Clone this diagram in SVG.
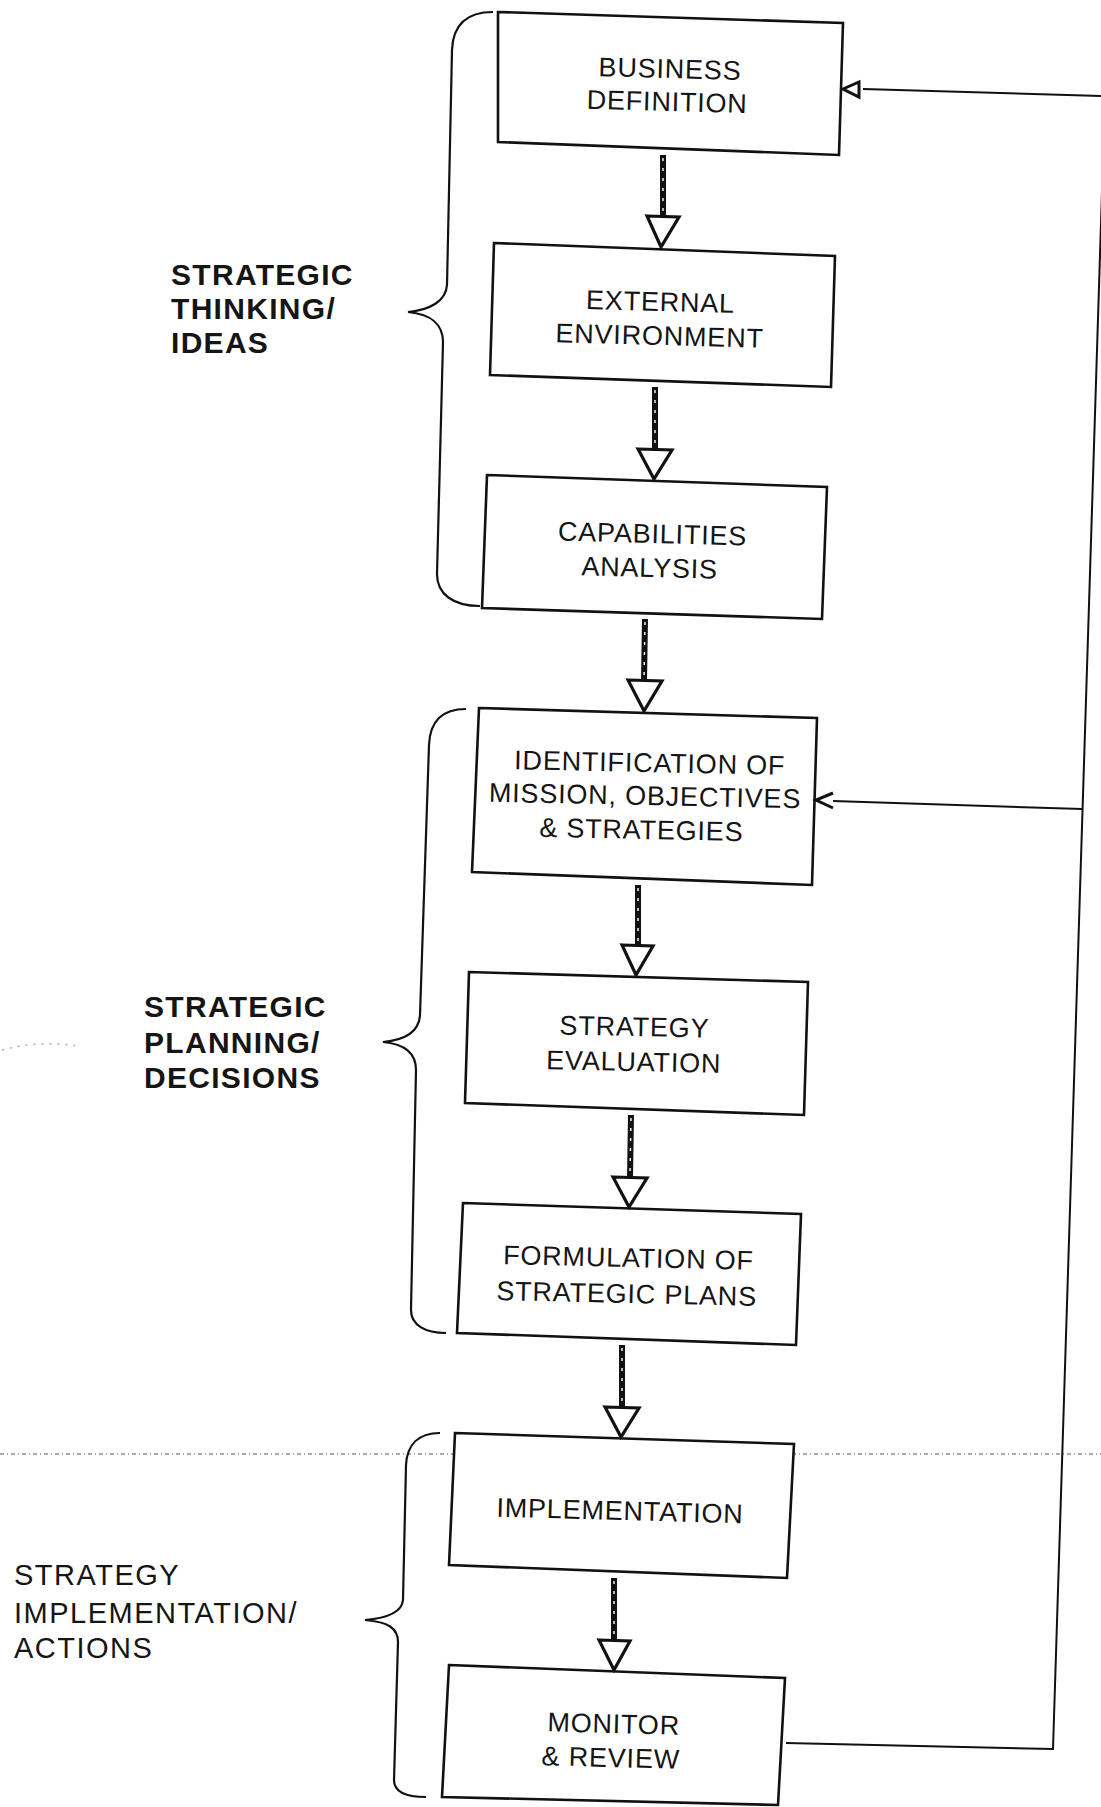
<svg xmlns="http://www.w3.org/2000/svg" width="1101" height="1807" viewBox="0 0 1101 1807">
<style>
.box{fill:#fff;stroke:#111;stroke-width:2.6;stroke-linejoin:miter}
.t{font-family:"Liberation Sans",Arial,sans-serif;font-size:27px;letter-spacing:0.8px;fill:#151515;text-anchor:middle}
.lb{font-family:"Liberation Sans",Arial,sans-serif;font-size:30px;font-weight:bold;letter-spacing:1.3px;fill:#151515}
.lr{font-family:"Liberation Sans",Arial,sans-serif;font-size:29px;letter-spacing:1.5px;fill:#151515}
.br{fill:none;stroke:#111;stroke-width:2.2}
.shaft{stroke:#111;stroke-width:6;fill:none}
.tex{stroke:#fff;stroke-width:1.4;stroke-dasharray:3 7;fill:none}
.head{fill:#fff;stroke:#111;stroke-width:3.2;stroke-linejoin:miter}
.fb{fill:none;stroke:#111;stroke-width:2}
</style>
<rect width="1101" height="1807" fill="#fff"/>

<!-- scan artefacts -->
<g id="artefacts">
<line x1="0" y1="1454" x2="1101" y2="1454" stroke="#8f8f8f" stroke-width="1.3" stroke-dasharray="4 3 1 3"/>
<path d="M2 1050 Q 40 1040 78 1046" fill="none" stroke="#aaa" stroke-width="1.5" stroke-dasharray="2 6"/>
<line x1="480" y1="1094" x2="487" y2="1094" stroke="#333" stroke-width="1.5"/>
</g>

<!-- brackets and group labels -->
<g id="group-thinking">
<path class="br" d="M493 12 C467 12 453 24 452 50 L447 285 C446 301 430 310 408 312 C430 314 443 324 443 342 L437 574 C437 594 453 606 480 606"/>
<text class="lb" x="171" y="285">STRATEGIC</text>
<text class="lb" x="171" y="319">THINKING/</text>
<text class="lb" x="171" y="353">IDEAS</text>
</g>
<g id="group-planning">
<path class="br" d="M466 709 C443 709 430 720 429 745 L420 1015 C419 1032 405 1040 383 1042 C405 1044 416 1053 416 1070 L411 1310 C411 1325 425 1333 446 1333"/>
<text class="lb" x="144" y="1017">STRATEGIC</text>
<text class="lb" x="144" y="1053">PLANNING/</text>
<text class="lb" x="144" y="1088">DECISIONS</text>
</g>
<g id="group-implementation">
<path class="br" d="M440 1433 C418 1433 407 1445 406 1465 L403 1600 C402 1612 388 1618 365 1620 C388 1622 398 1628 398 1642 L394 1780 C394 1792 405 1797 426 1797"/>
<text class="lr" x="14" y="1585">STRATEGY</text>
<text class="lr" x="14" y="1623">IMPLEMENTATION/</text>
<text class="lr" x="14" y="1658">ACTIONS</text>
</g>

<!-- nodes -->
<g id="business-definition">
<polygon class="box" points="498,12 843,23 839,155 498,142"/>
<text class="t" transform="rotate(1.5 670 70)"><tspan x="670" y="78">BUSINESS</tspan><tspan x="668" y="111">DEFINITION</tspan></text>
</g>
<g id="external-environment">
<polygon class="box" points="494,243 835,256 831,387 490,375"/>
<text class="t" transform="rotate(1.5 660 320)"><tspan x="660" y="311">EXTERNAL</tspan><tspan x="660" y="345">ENVIRONMENT</tspan></text>
</g>
<g id="capabilities-analysis">
<polygon class="box" points="487,475 827,487 822,619 482,608"/>
<text class="t" transform="rotate(1.5 652 555)"><tspan x="652" y="543">CAPABILITIES</tspan><tspan x="650" y="577">ANALYSIS</tspan></text>
</g>
<g id="identification">
<polygon class="box" points="479,708 817,718 812,885 472,872"/>
<text class="t" transform="rotate(1.2 645 800)"><tspan x="649" y="772">IDENTIFICATION OF</tspan><tspan x="645" y="805">MISSION, OBJECTIVES</tspan><tspan x="642" y="839">&amp; STRATEGIES</tspan></text>
</g>
<g id="strategy-evaluation">
<polygon class="box" points="469,972 808,982 804,1115 465,1103"/>
<text class="t" transform="rotate(1.2 634 1050)"><tspan x="634" y="1036">STRATEGY</tspan><tspan x="634" y="1071">EVALUATION</tspan></text>
</g>
<g id="formulation">
<polygon class="box" points="463,1203 801,1214 796,1345 457,1333"/>
<text class="t" transform="rotate(1.3 628 1280)"><tspan x="628" y="1267">FORMULATION OF</tspan><tspan x="627" y="1303">STRATEGIC PLANS</tspan></text>
</g>
<g id="implementation">
<polygon class="box" points="455,1433 794,1444 787,1578 449,1565"/>
<text class="t" transform="rotate(1.5 620 1512)"><tspan x="620" y="1520">IMPLEMENTATION</tspan></text>
</g>
<g id="monitor-review">
<polygon class="box" points="449,1665 785,1678 778,1805 442,1797"/>
<text class="t" transform="rotate(1.5 612 1750)"><tspan x="613" y="1733">MONITOR</tspan><tspan x="611" y="1767">&amp; REVIEW</tspan></text>
</g>

<!-- connectors -->
<g id="connectors">
<line class="shaft" x1="663" y1="155" x2="663" y2="217"/><line class="tex" x1="663" y1="158" x2="663" y2="214"/>
<polygon class="head" points="647,216 679,217 661,247"/>

<line class="shaft" x1="655" y1="387" x2="655" y2="450"/><line class="tex" x1="655" y1="390" x2="655" y2="447"/>
<polygon class="head" points="638,449 672,450 654,479"/>

<line class="shaft" x1="645" y1="619" x2="644" y2="681"/><line class="tex" x1="645" y1="622" x2="644" y2="678"/>
<polygon class="head" points="628,680 662,681 644,711"/>

<line class="shaft" x1="638" y1="885" x2="638" y2="946"/><line class="tex" x1="638" y1="888" x2="638" y2="943"/>
<polygon class="head" points="622,945 653,946 636,975"/>

<line class="shaft" x1="631" y1="1115" x2="630" y2="1178"/><line class="tex" x1="631" y1="1118" x2="630" y2="1175"/>
<polygon class="head" points="613,1177 647,1178 629,1207"/>

<line class="shaft" x1="622" y1="1345" x2="622" y2="1408"/><line class="tex" x1="622" y1="1348" x2="622" y2="1405"/>
<polygon class="head" points="605,1407 639,1408 621,1437"/>

<line class="shaft" x1="614" y1="1578" x2="614" y2="1641"/><line class="tex" x1="614" y1="1581" x2="614" y2="1638"/>
<polygon class="head" points="599,1640 630,1641 614,1670"/>

<!-- feedback loop -->
<polyline class="fb" points="786,1743 1053,1749 1105,96 863,89"/>
<polygon fill="#fff" stroke="#111" stroke-width="3" points="843,89 859,82 859,97"/>
<line class="fb" x1="1082" y1="809" x2="833" y2="801"/>
<polyline fill="none" stroke="#111" stroke-width="3" points="833,793 816,800 833,808"/>
</g>
</svg>
